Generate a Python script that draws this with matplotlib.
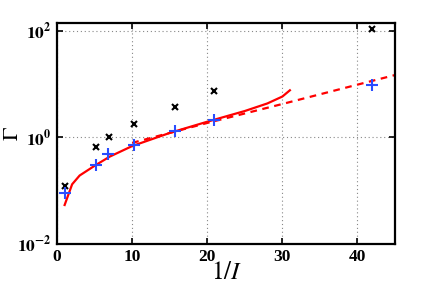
import matplotlib
matplotlib.use("Agg")
import matplotlib.pyplot as plt
import numpy as np

# data
x_pts = [1, 5.2, 6.9, 10.3, 15.7, 20.9, 42]
gamma_x = [0.12, 0.65, 1.0, 1.8, 3.7, 7.3, 110]
x_plus = [1, 5.2, 6.8, 10.3, 15.7, 20.9, 42]
gamma_plus = [0.09, 0.30, 0.48, 0.71, 1.3, 2.1, 9.5]

x_solid = [1, 2, 3, 5, 7, 10, 15, 20, 25, 28, 30, 31]
g_solid = [0.053, 0.13, 0.19, 0.29, 0.43, 0.68, 1.2, 1.95, 3.1, 4.3, 5.8, 7.6]
x_dash = [10, 20, 30, 40, 45]
g_dash = [0.78, 1.85, 4.2, 9.7, 14.7]

plt.rcParams['font.family'] = 'Liberation Serif'
plt.rcParams['mathtext.fontset'] = 'stix'

fig = plt.figure(figsize=(4.36, 2.92), dpi=100)
ax = fig.add_axes([0.131, 0.166, 0.775, 0.756])

ax.plot(x_solid, g_solid, '-', color='red', lw=1.6)
ax.plot(x_dash, g_dash, '--', color='red', lw=1.6, dashes=(3, 2.5))
ax.plot(x_pts, gamma_x, 'x', color='black', ms=5, mew=1.5)
ax.plot(x_plus, gamma_plus, '+', color='#2a4dff', ms=8, mew=1.5)

ax.set_yscale('log')
ax.set_xlim(0, 45)
ax.set_ylim(1e-2, 10**2.15)
ax.set_xticks([0, 10, 20, 30, 40])
ax.set_xticklabels(['0', '10', '20', '30', '40'], fontsize=12.5, fontweight='bold')
ax.set_yticks([1e-2, 1e0, 1e2])
ax.set_yticklabels([r'$\mathbf{10^{-2}}$', r'$\mathbf{10^{0}}$', r'$\mathbf{10^{2}}$'], fontsize=12.5)
ax.yaxis.set_minor_locator(matplotlib.ticker.NullLocator())
ax.tick_params(direction='in', length=4, width=1.2, top=True, right=True, pad=4)

ax.grid(True, linestyle=(0, (1, 2.5)), color='#888888', lw=0.8)
for s in ax.spines.values():
    s.set_linewidth(1.6)

ax.set_xlabel(r'$1/I$', fontsize=18, labelpad=-2)
ax.set_ylabel(r'$\Gamma$', fontsize=16, rotation=90, va='center')
ax.yaxis.set_label_coords(-0.13, 0.5)

fig.savefig('out.png', dpi=100)
